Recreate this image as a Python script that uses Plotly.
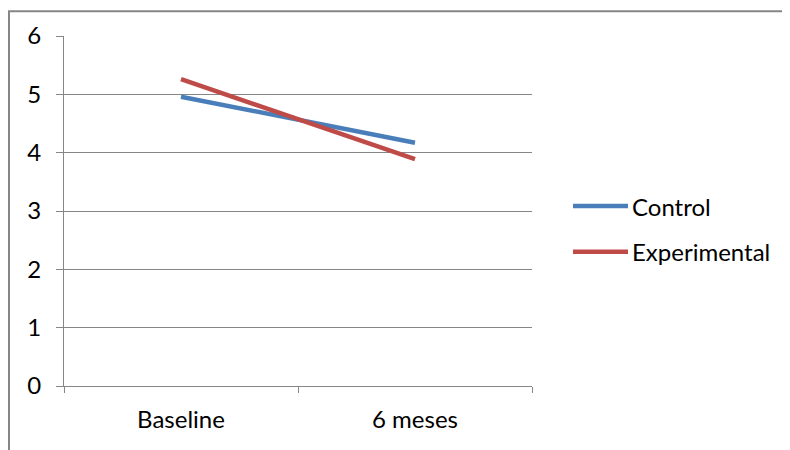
import plotly.graph_objects as go

categories = ["Baseline", "6 meses"]
series_names = ["Control", "Experimental"]
control = [4.96, 4.17]
experimental = [5.26, 3.89]
colors = ["#4A7EBB", "#BE4B48"]

# page has an 8px body margin, so figure coordinates = screen - 8
OFF = 8
W, H = 790 - OFF, 450 - OFF
L, R, T, B = 64 - OFF, 532 - OFF, 34 - OFF, 386 - OFF

def px_x(p):
    return (p - OFF - L) / (R - L)

def px_y(p):
    return (B - (p - OFF)) / (B - T)

font = dict(family="Lato, Carlito, 'Open Sans', sans-serif", size=24, color="#000000")

fig = go.Figure()
for name, vals, col in zip(series_names, [control, experimental], colors):
    fig.add_trace(go.Scatter(
        x=categories, y=vals, name=name, mode="lines",
        line=dict(color=col, width=4.5), showlegend=False,
    ))

shapes = [dict(type="rect", xref="paper", yref="paper",
               x0=px_x(9), x1=px_x(900), y0=px_y(700), y1=px_y(9),
               line=dict(color="#868686", width=2), layer="below")]
annotations = []
legend_y = [205, 251]
for name, col, ly in zip(series_names, colors, legend_y):
    shapes.append(dict(type="line", xref="paper", yref="paper",
                       x0=px_x(573), x1=px_x(628), y0=px_y(ly), y1=px_y(ly),
                       line=dict(color=col, width=4.5)))
    annotations.append(dict(xref="paper", yref="paper", x=px_x(630), y=px_y(ly),
                            xanchor="left", yanchor="middle", text=name,
                            showarrow=False, font=font))

fig.update_layout(
    width=W, height=H,
    margin=dict(l=L, r=W - R, t=T, b=H - B, pad=0),
    paper_bgcolor="white", plot_bgcolor="white",
    font=font,
    showlegend=False,
    xaxis=dict(
        type="category", range=[-0.5, 1.5],
        showline=True, linecolor="#868686", linewidth=1.3,
        ticks="outside", tickson="boundaries", ticklen=6, tickcolor="#868686", tickwidth=1.3,
        showgrid=False, zeroline=False, fixedrange=True, ticklabelstandoff=12,
    ),
    yaxis=dict(
        range=[0, 6], dtick=1, tick0=0,
        showline=True, linecolor="#868686", linewidth=1.3,
        ticks="outside", ticklen=7, tickcolor="#868686", tickwidth=1.3,
        showgrid=True, gridcolor="#868686", gridwidth=1.3,
        zeroline=False, ticklabelstandoff=10, fixedrange=True,
    ),
    shapes=shapes,
    annotations=annotations,
)

fig.write_html("out.html")
